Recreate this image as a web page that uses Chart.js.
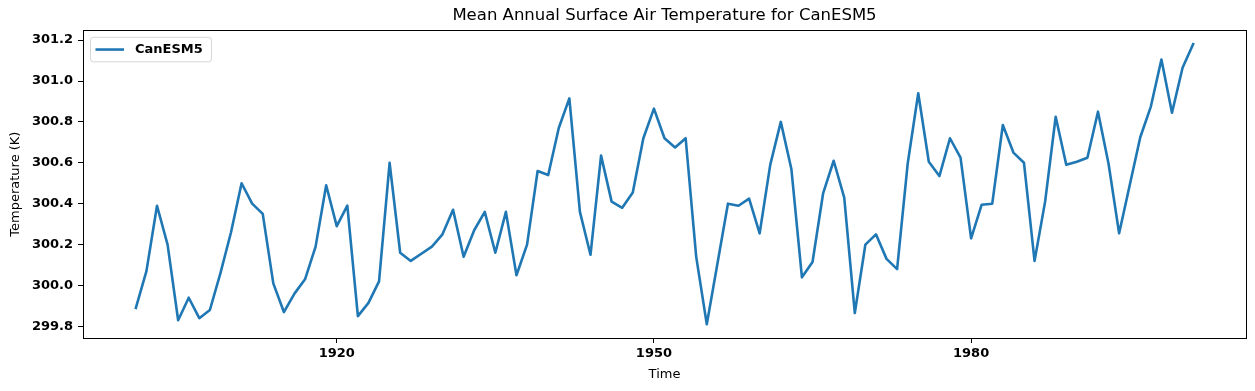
<!DOCTYPE html>
<html>
<head>
<meta charset="utf-8">
<script src="https://cdn.jsdelivr.net/npm/chart.js@4/dist/chart.umd.min.js"></script>
<style>
    html, body { margin: 0; padding: 0; background: #fff; }
    #wrap { width: 1255px; height: 391px; }
</style>
</head>
<body>
<div id="wrap"><canvas id="tas-chart" width="1255" height="391"></canvas></div>
<script>
// annual mean tas, CanESM5, one value per year starting 1901
const startYear = 1901;
const tasValues = [
    299.89, 300.07, 300.39, 300.20, 299.83, 299.94, 299.84, 299.88, 300.06, 300.26,
    300.50, 300.40, 300.35, 300.01, 299.87, 299.96, 300.03, 300.19, 300.49, 300.29,
    300.39, 299.85, 299.915, 300.02, 300.60, 300.16, 300.12, 300.155, 300.19, 300.25,
    300.37, 300.14, 300.27, 300.36, 300.16, 300.36, 300.05, 300.20, 300.56, 300.54,
    300.77, 300.915, 300.36, 300.15, 300.635, 300.41, 300.38, 300.455, 300.72, 300.865,
    300.72, 300.675, 300.72, 300.14, 299.81, 300.105, 300.40, 300.39, 300.425, 300.255,
    300.59, 300.80, 300.57, 300.04, 300.115, 300.45, 300.61, 300.43, 299.865, 300.20,
    300.25, 300.13, 300.08, 300.595, 300.94, 300.605, 300.535, 300.72, 300.625, 300.23,
    300.395, 300.40, 300.785, 300.65, 300.60, 300.12, 300.41, 300.825, 300.59, 300.605,
    300.625, 300.85, 300.595, 300.255, 300.49, 300.725, 300.875, 301.105, 300.845, 301.065,
    301.18
];
const years = tasValues.map((v, i) => startYear + i);
const xTicks = [1920, 1950, 1980];
const yTicks = [299.8, 300.0, 300.2, 300.4, 300.6, 300.8, 301.0, 301.2];
const modelName = 'CanESM5';

Chart.defaults.font.family = '"DejaVu Sans", sans-serif';
Chart.defaults.color = '#000';

// axes frame + matplotlib style legend box
const framePlugin = {
    id: 'frame',
    afterDatasetsDraw(chart) {
        const ca = chart.chartArea;
        const ctx = chart.ctx;
        ctx.save();
        ctx.strokeStyle = '#000';
        ctx.lineWidth = 1;
        ctx.strokeRect(Math.round(ca.left) + 0.5, Math.round(ca.top) + 0.5,
            Math.round(ca.right - ca.left), Math.round(ca.bottom - ca.top));

        // legend
        const ds = chart.data.datasets[0];
        const bx = ca.left + 7.5, by = ca.top + 7;
        const bw = 121, bh = 24.5;
        ctx.beginPath();
        ctx.roundRect(bx, by, bw, bh, 3);
        ctx.fillStyle = 'rgba(255,255,255,0.8)';
        ctx.fill();
        ctx.strokeStyle = 'rgba(204,204,204,0.8)';
        ctx.stroke();
        ctx.beginPath();
        ctx.moveTo(bx + 5, by + bh / 2);
        ctx.lineTo(bx + 33.5, by + bh / 2);
        ctx.strokeStyle = ds.borderColor;
        ctx.lineWidth = ds.borderWidth;
        ctx.stroke();
        ctx.fillStyle = '#000';
        ctx.font = 'bold 13px "DejaVu Sans", sans-serif';
        ctx.textBaseline = 'middle';
        ctx.fillText(ds.label, bx + 44.5, by + bh / 2 + 0.5);
        ctx.restore();
    }
};

let ctx = document.getElementById('tas-chart');
let tasChart = new Chart(ctx, {
    type: 'line',
    data: {
        datasets: [
            {
                label: modelName,
                data: years.map((y, i) => ({ x: y, y: tasValues[i] })),
                borderColor: '#1f77b4',
                backgroundColor: '#1f77b4',
                borderWidth: 2.6,
                borderJoinStyle: 'round',
                borderCapStyle: 'square',
                pointRadius: 0,
                tension: 0,
                fill: false
            }
        ]
    },
    options: {
        responsive: false,
        animation: false,
        devicePixelRatio: 1,
        layout: {
            padding: { left: 0, right: 9, top: 0, bottom: 0 }
        },
        plugins: {
            legend: { display: false },
            tooltip: { enabled: false },
            title: {
                display: true,
                text: 'Mean Annual Surface Air Temperature for ' + modelName,
                fullSize: false,
                font: { size: 16.5, weight: 'normal', lineHeight: 1.2 },
                padding: { top: 5.5, bottom: 5 },
                color: '#000'
            }
        },
        scales: {
            x: {
                type: 'linear',
                min: 1896,
                max: 2006,
                afterBuildTicks: (scale) => { scale.ticks = xTicks.map(v => ({ value: v })); },
                afterFit: (scale) => { scale.height = 53; },
                ticks: {
                    font: { size: 13, weight: 'bold' },
                    padding: 3,
                    maxRotation: 0,
                    callback: (v) => String(v)
                },
                grid: {
                    display: true,
                    drawOnChartArea: false,
                    drawTicks: true,
                    tickLength: 5,
                    tickColor: '#000'
                },
                border: { display: false },
                title: {
                    display: true,
                    text: 'Time',
                    font: { size: 13 },
                    padding: { top: 0, bottom: 9 }
                }
            },
            y: {
                min: 299.743,
                max: 301.248,
                afterBuildTicks: (scale) => { scale.ticks = yTicks.map(v => ({ value: v })); },
                afterFit: (scale) => { scale.width = 83; },
                ticks: {
                    font: { size: 13, weight: 'bold' },
                    padding: 5,
                    callback: (v) => Number(v).toFixed(1)
                },
                grid: {
                    display: true,
                    drawOnChartArea: false,
                    drawTicks: true,
                    tickLength: 5,
                    tickColor: '#000'
                },
                border: { display: false },
                title: {
                    display: true,
                    text: 'Temperature (K)',
                    font: { size: 13 },
                    padding: { top: 8, bottom: 0 }
                }
            }
        }
    },
    plugins: [framePlugin]
});
</script>
</body>
</html>
